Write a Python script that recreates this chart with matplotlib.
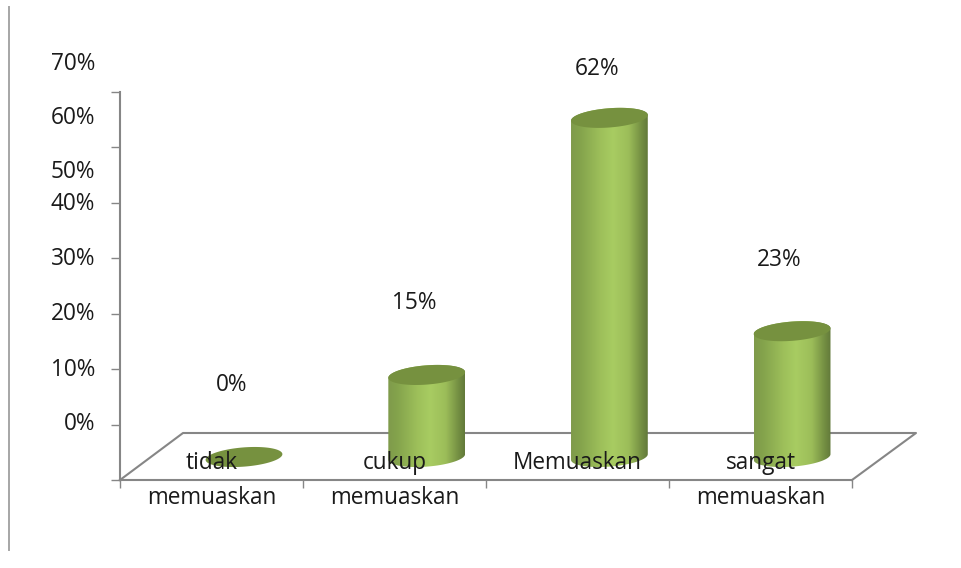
import numpy as np
import matplotlib
matplotlib.use("Agg")
import matplotlib.pyplot as plt
from matplotlib.colors import LinearSegmentedColormap
from matplotlib.patches import Polygon

categories = ["tidak\nmemuaskan", "cukup\nmemuaskan", "Memuaskan", "sangat\nmemuaskan"]
values = [0, 15, 62, 23]
value_labels = ["0%", "15%", "62%", "23%"]
y_labels = ["0%", "10%", "20%", "30%", "40%", "50%", "60%", "70%"]
y_label_px = [424.5, 369.5, 314.5, 259.5, 204.5, 172.5, 117.5, 63.5]

W, H = 962, 568
plt.rcParams["font.family"] = ["Open Sans", "DejaVu Sans"]
FS = 16.3
GREY = "#868686"
TXT = "#1a1a1a"

fig = plt.figure(figsize=(W / 100, H / 100), dpi=100, facecolor="white")

# Background axes: x in category units, y in percent
X0, XS = 244.0, 182.7   # pixel of category 0, pixels per category
Y0, YS = 457.0, 5.47    # pixel of value 0, pixels per percent
ax = fig.add_axes([0, 0, 1, 1])
ax.set_xlim((0 - X0) / XS, (W - X0) / XS)
ax.set_ylim((Y0 - H) / YS, (Y0 - 0) / YS)
ax.set_axis_off()

def px(x, y):
    return ((np.asarray(x, float) - X0) / XS, (Y0 - np.asarray(y, float)) / YS)

# page rule and floor
ax.plot(*px([9, 9], [7, 550]), color="#a6a6a6", lw=1.4)
fx, fy = px([120, 183, 916, 852], [480, 433, 433, 480])
ax.plot(fx, fy, color=GREY, lw=1.5, solid_capstyle="projecting", zorder=1)

RX, RY, TILT = 38.5, 9.6, np.radians(4.5)

def ellipse(i, v, t):
    ex = RX * np.cos(t)
    ey = RY * np.sin(t)
    dx = ex * np.cos(TILT) - ey * np.sin(TILT)
    dy = ex * np.sin(TILT) + ey * np.cos(TILT)
    return np.column_stack([i + dx / XS, v + dy / YS])

cmap = LinearSegmentedColormap.from_list("cyl", [
    (0.00, "#7f9a4b"), (0.12, "#84a34c"), (0.38, "#9dbf5a"), (0.55, "#a8cc62"),
    (0.75, "#9cbd59"), (0.92, "#738e42"), (1.00, "#62793a")])
grad = np.linspace(0, 1, 256).reshape(1, -1)
base_v = 0

for i, v in enumerate(values):
    if v > 0:
        top_arc = ellipse(i, v, np.linspace(0, np.pi, 60))
        bot_arc = ellipse(i, base_v, np.linspace(np.pi, 2 * np.pi, 60))
        body = Polygon(np.vstack([top_arc, bot_arc]), closed=True, transform=ax.transData,
                       fc="none", ec="none")
        ax.add_patch(body)
        im = ax.imshow(grad, cmap=cmap, aspect="auto", zorder=2, interpolation="bilinear",
                       extent=[i - RX / XS, i + RX / XS, base_v - 3, v + 3])
        im.set_clip_path(body)
    rim = ellipse(i, v, np.linspace(0, 2 * np.pi, 120))
    ax.add_patch(Polygon(rim, closed=True, fc="#76913f", ec="none", zorder=3))
    ax.text(i - 0.07, min(v + 13.1, 71.0), value_labels[i], ha="center", va="center",
            fontsize=FS, color=TXT, zorder=5)

ax.set_xlim((0 - X0) / XS, (W - X0) / XS)
ax.set_ylim((Y0 - H) / YS, (Y0 - 0) / YS)

# Axis axes: real ticks and category labels
ax2 = fig.add_axes([120 / W, 1 - 480 / H, 732 / W, 388 / H], facecolor="none")
ax2.set_xlim(0, 4)
ax2.set_ylim(0, 70)
for s in ("top", "right"):
    ax2.spines[s].set_visible(False)
for s in ("left", "bottom"):
    ax2.spines[s].set_color(GREY)
    ax2.spines[s].set_linewidth(1.5)
ax2.set_yticks(range(0, 71, 10))
ax2.set_yticklabels([])
ax2.tick_params(axis="y", direction="out", length=6.5, width=1.0, color=GREY)
ax2.set_xticks(range(5))
ax2.set_xticklabels([])
ax2.tick_params(axis="x", which="major", direction="out", length=6, width=1.0, color=GREY)
ax2.set_xticks(np.arange(4) + 0.5, minor=True)
ax2.set_xticklabels(categories, minor=True, fontsize=FS, color=TXT, linespacing=1.62)
ax2.tick_params(axis="x", which="minor", length=0, pad=-21)
for lab in ax2.get_xticklabels(minor=True):
    lab.set_va("top")

for lab, py in zip(y_labels, y_label_px):
    fig.text(95 / W, 1 - py / H, lab, ha="right", va="center", fontsize=FS, color=TXT)

fig.savefig("out.png", dpi=100, facecolor="white")
